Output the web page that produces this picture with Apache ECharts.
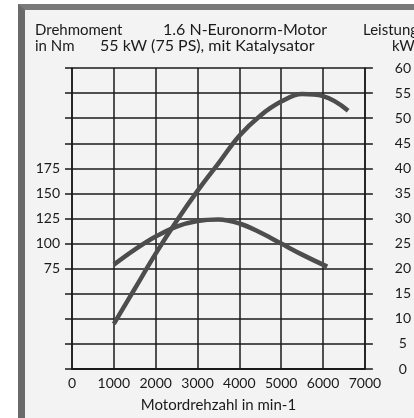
<!DOCTYPE html>
<html>
<head>
<meta charset="utf-8">
<script src="https://cdn.jsdelivr.net/npm/echarts@6/dist/echarts.min.js"></script>
<style>
  html, body { margin: 0; padding: 0; background: #fff; }
  #frame {
    position: absolute; left: 18px; top: 4px; width: 389px; height: 412px;
    border-left: 7px solid #6a6a6a; border-top: 6px solid #7a7a7a;
    border-bottom: 1px solid #888; background: #f3f3f3;
  }
  #chart { position: absolute; left: 0; top: 0; width: 414px; height: 418px; }
</style>
</head>
<body>
<div id="frame"></div>
<div id="chart"></div>
<script>
const rpm = [1000, 1500, 2000, 2500, 3000, 3500, 4000, 4500, 5000, 5500, 6000, 6600]
// Leistung in kW
const power = [9, 16, 23, 29.5, 35.5, 41, 46.5, 50.5, 53.3, 54.8, 54.4, 51.5]
// Drehmoment in Nm
const torqueRpm = [1000, 1500, 2000, 2500, 3000, 3500, 4000, 4500, 5000, 5500, 6100]
const torque = [79, 94, 107, 117, 122.5, 124, 120, 111, 100, 89, 77]

const torqueLabels = [75, 100, 125, 150, 175]

const font = 'Lato, "DejaVu Sans", sans-serif'
const ink = '#1a1a1a'
const curve = { color: '#4d4d4d', width: 4.5 }

const chart = echarts.init(document.getElementById('chart'))

chart.setOption({
  backgroundColor: 'transparent',
  animation: false,
  grid: { left: 72, right: 39, top: 68, bottom: 44 },
  graphic: [
    { type: 'text', left: 35, top: 23, style: { text: 'Drehmoment', font: '15px ' + font, fill: ink } },
    { type: 'text', left: 35, top: 39, style: { text: 'in Nm', font: '15px ' + font, fill: ink } },
    { type: 'text', left: 163, top: 22, style: { text: '1.6 N-Euronorm-Motor', font: '16px ' + font, fill: ink } },
    { type: 'text', left: 100, top: 38, style: { text: '55 kW (75 PS), mit Katalysator', font: '16px ' + font, fill: ink } },
    { type: 'text', left: 363, top: 23, style: { text: 'Leistung', font: '15px ' + font, fill: ink } },
    { type: 'text', left: 392, top: 39, style: { text: 'kW', font: '15px ' + font, fill: ink } },
  ],
  xAxis: {
    type: 'value',
    min: 0,
    max: 7000,
    interval: 1000,
    name: 'Motordrehzahl in min-1',
    nameLocation: 'middle',
    nameGap: 29,
    nameTextStyle: { fontFamily: font, fontSize: 15, color: ink },
    axisLine: { onZero: false, lineStyle: { color: ink, width: 2 } },
    axisTick: { show: false },
    axisLabel: { fontFamily: font, fontSize: 14, color: ink, margin: 7, formatter: (v) => String(v) },
    splitLine: { lineStyle: { color: ink, width: 1.5 } },
  },
  yAxis: [
    {
      type: 'value',
      position: 'left',
      min: -25,
      max: 275,
      interval: 25,
      axisLine: { show: true, lineStyle: { color: ink, width: 1.5 } },
      axisTick: { show: true, length: 7, lineStyle: { color: ink, width: 1.5 } },
      axisLabel: {
        fontFamily: font, fontSize: 14, color: ink, margin: 12,
        formatter: (v) => (torqueLabels.includes(v) ? String(v) : ''),
      },
      splitLine: { lineStyle: { color: ink, width: 1.5 } },
    },
    {
      type: 'value',
      position: 'right',
      min: 0,
      max: 60,
      interval: 5,
      axisLine: { show: true, lineStyle: { color: ink, width: 1.5 } },
      axisTick: { show: true, length: 8, lineStyle: { color: ink, width: 1.5 } },
      axisLabel: { fontFamily: font, fontSize: 14, color: ink, margin: 38, align: 'center' },
      splitLine: { show: false },
    },
  ],
  series: [
    {
      name: 'Drehmoment',
      type: 'line',
      yAxisIndex: 0,
      smooth: 0.4,
      symbol: 'none',
      lineStyle: curve,
      data: torqueRpm.map((r, i) => [r, torque[i]]),
    },
    {
      name: 'Leistung',
      type: 'line',
      yAxisIndex: 1,
      smooth: 0.4,
      symbol: 'none',
      lineStyle: curve,
      data: rpm.map((r, i) => [r, power[i]]),
    },
  ],
})
</script>
</body>
</html>
